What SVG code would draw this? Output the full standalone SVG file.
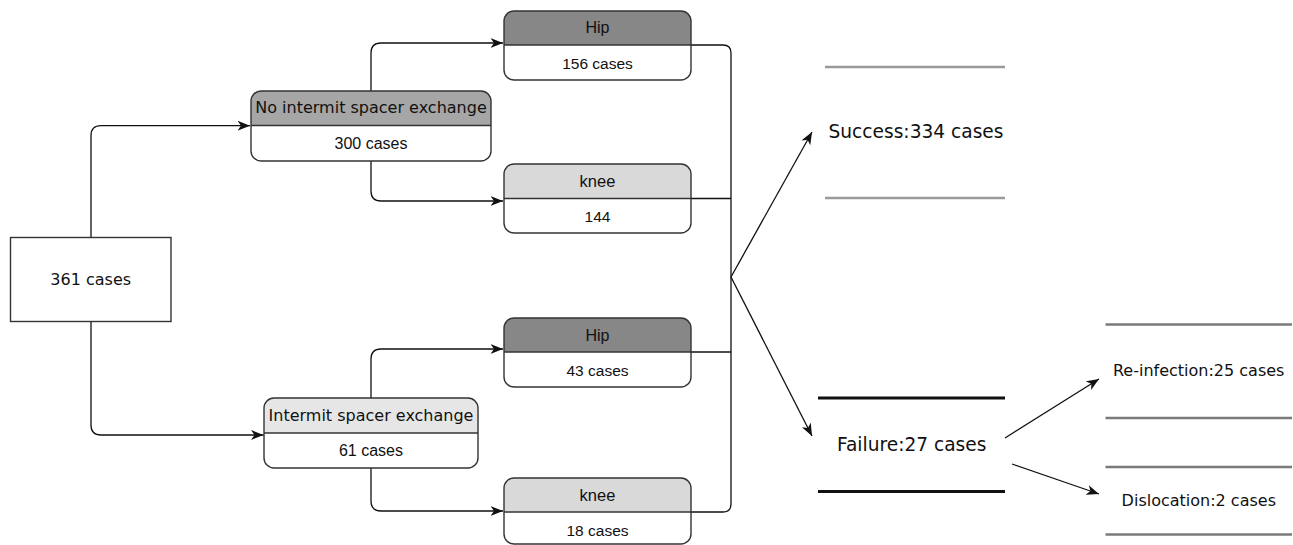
<svg xmlns="http://www.w3.org/2000/svg" width="1293" height="545" viewBox="0 0 1293 545">
<style>
.box{fill:none;stroke:#333;stroke-width:1.4}
.bg{fill:#fff;stroke:none}
.div{stroke:#333;stroke-width:1.4}
.conn{fill:none;stroke:#111;stroke-width:1.3}
.dv{font-family:"DejaVu Sans",Verdana,sans-serif;fill:#111;text-anchor:middle}
.ls{font-family:"Liberation Sans",Arial,sans-serif;fill:#111;text-anchor:middle}
.gl{stroke:#9a9a9a;stroke-width:2.7}
.bl{stroke:#111;stroke-width:2.8}
.dl{stroke:#7a7a7a;stroke-width:2.6}
</style>
<defs>
<marker id="arr" markerUnits="userSpaceOnUse" markerWidth="14" markerHeight="12" refX="12.5" refY="5" orient="auto">
<path d="M0,0 L12.5,5 L0,10 L3.5,5 Z" fill="#111"/>
</marker>
</defs>

<g id="connectors">
<path class="conn" d="M91,237 V135.7 Q91,125.7 101,125.7 H250" marker-end="url(#arr)"/>
<path class="conn" d="M91,322 V425 Q91,435 101,435 H263.5" marker-end="url(#arr)"/>
<path class="conn" d="M371,91 V53 Q371,43 381,43 H503" marker-end="url(#arr)"/>
<path class="conn" d="M371,161 V191 Q371,201 381,201 H503" marker-end="url(#arr)"/>
<path class="conn" d="M371,398 V359 Q371,349 381,349 H503" marker-end="url(#arr)"/>
<path class="conn" d="M371,468 V501 Q371,511 381,511 H503" marker-end="url(#arr)"/>
<path class="conn" d="M691,45 H723 Q731,45 731,53 V504 Q731,512 723,512 H691"/>
<path class="conn" d="M691,198.5 H731"/>
<path class="conn" d="M691,352 H731"/>
<path class="conn" d="M731,277 L812,132" marker-end="url(#arr)"/>
<path class="conn" d="M731,277 L812,436" marker-end="url(#arr)"/>
<path class="conn" d="M1005,438 L1099,379" marker-end="url(#arr)"/>
<path class="conn" d="M1012,464 L1099,494" marker-end="url(#arr)"/>
</g>

<g id="n361">
<rect x="10.5" y="237.5" width="160.5" height="84" fill="#fff" stroke="#333" stroke-width="1.4"/>
<text class="dv" x="90.7" y="285" font-size="16">361 cases</text>
</g>

<g id="noIntermit">
<rect class="bg" x="251" y="91" width="240" height="70" rx="10"/>
<path d="M251,125.5 V101 Q251,91 261,91 H481 Q491,91 491,101 V125.5 Z" fill="#a6a6a6"/>
<rect class="box" x="251" y="91" width="240" height="70" rx="10"/>
<line class="div" x1="251" y1="125.5" x2="491" y2="125.5"/>
<text class="dv" x="371" y="113.3" font-size="16">No intermit spacer exchange</text>
<text class="ls" x="371" y="149" font-size="16">300 cases</text>
</g>

<g id="intermit">
<rect class="bg" x="264" y="398" width="214" height="70" rx="10"/>
<path d="M264,433 V408 Q264,398 274,398 H468 Q478,398 478,408 V433 Z" fill="#e6e6e6"/>
<rect class="box" x="264" y="398" width="214" height="70" rx="10"/>
<line class="div" x1="264" y1="433" x2="478" y2="433"/>
<text class="dv" x="371" y="420.7" font-size="16">Intermit spacer exchange</text>
<text class="ls" x="371" y="456" font-size="16">61 cases</text>
</g>

<g id="hip1">
<rect class="bg" x="504" y="11" width="187" height="69" rx="10"/>
<path d="M504,45 V21 Q504,11 514,11 H681 Q691,11 691,21 V45 Z" fill="#878787"/>
<rect class="box" x="504" y="11" width="187" height="69" rx="10"/>
<line class="div" x1="504" y1="45" x2="691" y2="45"/>
<text class="ls" x="597.5" y="33" font-size="16">Hip</text>
<text class="ls" x="597.5" y="69" font-size="15.5">156 cases</text>
</g>

<g id="knee1">
<rect class="bg" x="504" y="164" width="187" height="69" rx="10"/>
<path d="M504,198.5 V174 Q504,164 514,164 H681 Q691,164 691,174 V198.5 Z" fill="#d9d9d9"/>
<rect class="box" x="504" y="164" width="187" height="69" rx="10"/>
<line class="div" x1="504" y1="198.5" x2="691" y2="198.5"/>
<text class="ls" x="597.5" y="186.7" font-size="16.5">knee</text>
<text class="ls" x="597.5" y="222" font-size="15.5">144</text>
</g>

<g id="hip2">
<rect class="bg" x="504" y="318" width="187" height="69" rx="10"/>
<path d="M504,352 V328 Q504,318 514,318 H681 Q691,318 691,328 V352 Z" fill="#878787"/>
<rect class="box" x="504" y="318" width="187" height="69" rx="10"/>
<line class="div" x1="504" y1="352" x2="691" y2="352"/>
<text class="ls" x="597.5" y="340.7" font-size="16">Hip</text>
<text class="ls" x="597.5" y="376" font-size="15.5">43 cases</text>
</g>

<g id="knee2">
<rect class="bg" x="504" y="478" width="187" height="66" rx="10"/>
<path d="M504,512 V488 Q504,478 514,478 H681 Q691,478 691,488 V512 Z" fill="#d9d9d9"/>
<rect class="box" x="504" y="478" width="187" height="66" rx="10"/>
<line class="div" x1="504" y1="512" x2="691" y2="512"/>
<text class="ls" x="597.5" y="500.7" font-size="16.5">knee</text>
<text class="ls" x="597.5" y="536" font-size="15.5">18 cases</text>
</g>

<g id="success">
<line class="gl" x1="825" y1="67" x2="1005" y2="67"/>
<line class="gl" x1="825" y1="198" x2="1005" y2="198"/>
<text class="dv" x="916" y="138" font-size="18.6">Success:334 cases</text>
</g>

<g id="failure">
<line class="bl" x1="818" y1="398" x2="1005" y2="398"/>
<line class="bl" x1="818" y1="491.5" x2="1005" y2="491.5"/>
<text class="dv" x="911.7" y="451" font-size="18.6">Failure:27 cases</text>
</g>

<g id="reinfection">
<line class="dl" x1="1105.5" y1="324.5" x2="1292" y2="324.5"/>
<line class="dl" x1="1105.5" y1="418" x2="1292" y2="418"/>
<text class="dv" x="1198.7" y="376" font-size="16">Re-infection:25 cases</text>
</g>

<g id="dislocation">
<line class="dl" x1="1105.5" y1="467" x2="1292" y2="467"/>
<line class="dl" x1="1105.5" y1="534.5" x2="1292" y2="534.5"/>
<text class="dv" x="1198.8" y="506" font-size="16">Dislocation:2 cases</text>
</g>
</svg>
